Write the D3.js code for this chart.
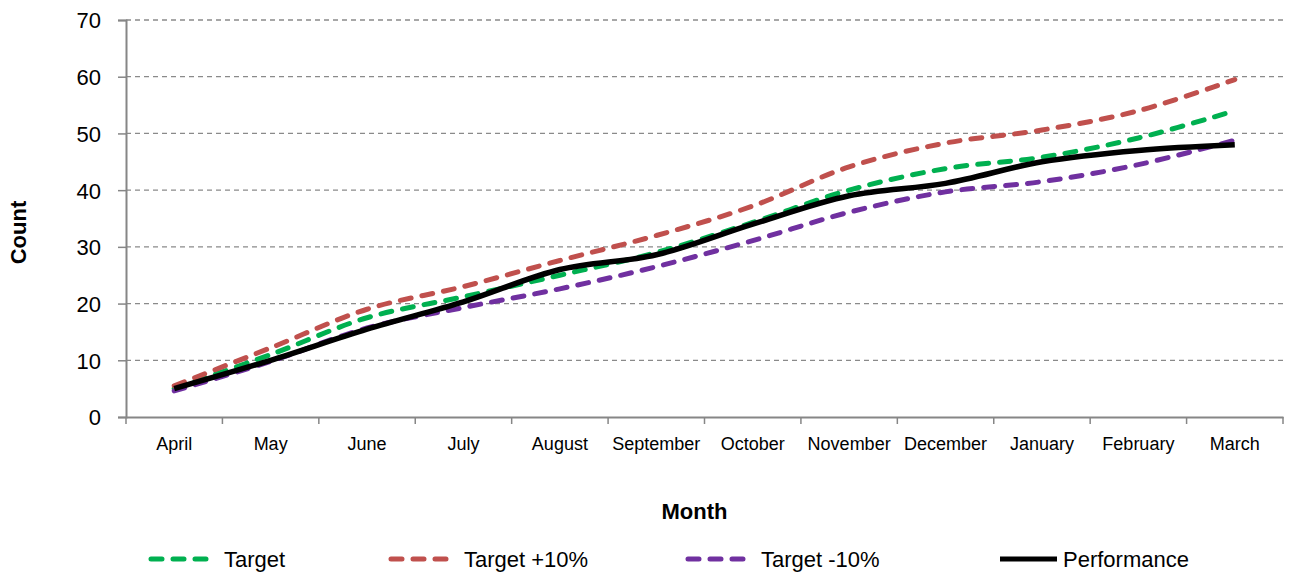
<!DOCTYPE html>
<html>
<head>
<meta charset="utf-8">
<script src="https://cdnjs.cloudflare.com/ajax/libs/d3/7.8.5/d3.min.js"></script>
<style>
  body { margin: 0; background: #fff; }
  svg { font-family: "Liberation Sans", Arial, sans-serif; }
</style>
</head>
<body>
<div id="chart"></div>
<script>
// chart data
var months = ["April", "May", "June", "July", "August", "September", "October",
              "November", "December", "January", "February", "March"];
var target      = [5, 11, 17.5, 21.2, 25, 29, 34.3, 40, 43.8, 45.8, 49.2, 54];
var targetPlus  = [5.5, 12.2, 19, 23, 27.6, 32, 37.2, 44.1, 48.3, 50.6, 54, 59.5];
var targetMinus = [4.6, 9.8, 15.7, 19.3, 22.6, 26.5, 31.1, 36.1, 39.7, 41.5, 44.5, 48.8];
var performance = [5, 10, 15.5, 20.3, 26, 28.6, 34, 39, 41.2, 45, 47, 48];
var yTicks = [0, 10, 20, 30, 40, 50, 60, 70];

var svgWidth = 1296, svgHeight = 575;
var margin = { top: 20, right: 13, bottom: 158, left: 126 };
var width = svgWidth - margin.left - margin.right;
var height = svgHeight - margin.top - margin.bottom;

var svg = d3.select("#chart").append("svg")
    .attr("width", svgWidth)
    .attr("height", svgHeight);

var chartGroup = svg.append("g")
    .attr("transform", `translate(${margin.left}, ${margin.top})`);

var xScale = d3.scaleBand().domain(months).range([0, width]);
var yScale = d3.scaleLinear().domain([0, 70]).range([height, 0]);

// gridlines
chartGroup.append("g")
    .selectAll("line")
    .data(yTicks.filter(d => d > 0))
    .enter()
    .append("line")
    .attr("x1", 0)
    .attr("x2", width)
    .attr("y1", d => yScale(d))
    .attr("y2", d => yScale(d))
    .attr("stroke", "#8a8a8a")
    .attr("stroke-width", 1.3)
    .attr("stroke-dasharray", "5,4");

// axes
var leftAxis = d3.axisLeft(yScale).tickValues(yTicks).tickSize(8).tickPadding(17);
var yAxis = chartGroup.append("g").call(leftAxis);
yAxis.select(".domain").attr("stroke", "#868686").attr("stroke-width", 2);
yAxis.selectAll(".tick line").attr("stroke", "#868686").attr("stroke-width", 1.5);
yAxis.selectAll("text").attr("font-size", 22).attr("fill", "#000").attr("dy", "0.36em");

var bottomAxis = d3.axisBottom(xScale).tickSize(0).tickPadding(20);
var xAxis = chartGroup.append("g")
    .attr("transform", `translate(0, ${height})`)
    .call(bottomAxis);
xAxis.select(".domain").attr("stroke", "#868686").attr("stroke-width", 2);
xAxis.selectAll("text").attr("font-size", 18).attr("fill", "#000");

// category boundary ticks
var bounds = months.map(m => xScale(m)).concat([width]);
xAxis.append("g")
    .selectAll("line")
    .data(bounds)
    .enter()
    .append("line")
    .attr("x1", d => d)
    .attr("x2", d => d)
    .attr("y1", 0)
    .attr("y2", 7)
    .attr("stroke", "#868686")
    .attr("stroke-width", 1.5);

// axis titles
chartGroup.append("text")
    .attr("transform", "rotate(-90)")
    .attr("x", -(height / 2) - 14)
    .attr("y", -margin.left + 26)
    .attr("text-anchor", "middle")
    .attr("font-size", 22)
    .attr("font-weight", "bold")
    .text("Count");

chartGroup.append("text")
    .attr("x", width / 2 - 10)
    .attr("y", height + 102)
    .attr("text-anchor", "middle")
    .attr("font-size", 22)
    .attr("font-weight", "bold")
    .text("Month");

// series
var series = [
    { name: "Target", values: target, color: "#00b050", dash: "11,11" },
    { name: "Target +10%", values: targetPlus, color: "#c0504d", dash: "11,11" },
    { name: "Target -10%", values: targetMinus, color: "#7030a0", dash: "11,11" },
    { name: "Performance", values: performance, color: "#000000", dash: null }
];

var line = d3.line()
    .x((d, i) => xScale(months[i]) + xScale.bandwidth() / 2)
    .y(d => yScale(d))
    .curve(d3.curveCatmullRom.alpha(0.5));

chartGroup.append("g")
    .selectAll("path")
    .data(series)
    .enter()
    .append("path")
    .attr("d", d => line(d.values))
    .attr("fill", "none")
    .attr("stroke", d => d.color)
    .attr("stroke-width", d => d.dash ? 5 : 5.5)
    .attr("stroke-linecap", d => d.dash ? "round" : "butt")
    .attr("stroke-linejoin", "round")
    .attr("stroke-dasharray", d => d.dash);

// legend
var legendX = [148, 388, 685, 1000];
var legend = svg.append("g")
    .selectAll("g")
    .data(series)
    .enter()
    .append("g")
    .attr("transform", (d, i) => `translate(${legendX[i]}, 559)`);

legend.append("line")
    .attr("x1", d => d.dash ? 3 : 0)
    .attr("x2", d => d.dash ? 62 : 57)
    .attr("y1", 0)
    .attr("y2", 0)
    .attr("stroke", d => d.color)
    .attr("stroke-width", 5)
    .attr("stroke-linecap", d => d.dash ? "round" : "butt")
    .attr("stroke-dasharray", d => d.dash ? "11,11" : null);

legend.append("text")
    .attr("x", (d, i) => i === 3 ? 63 : 76)
    .attr("y", 0)
    .attr("dy", "0.36em")
    .attr("font-size", 22)
    .text(d => d.name);
</script>
</body>
</html>
